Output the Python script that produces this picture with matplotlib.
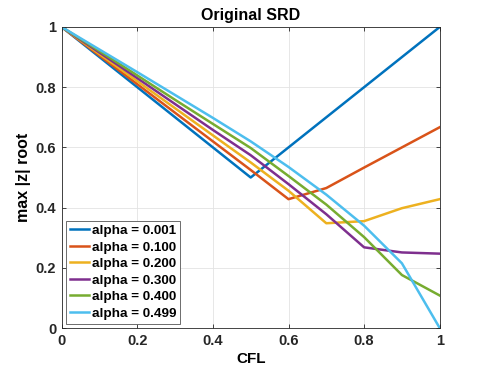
import matplotlib
matplotlib.use("Agg")
import matplotlib.pyplot as plt
from matplotlib.ticker import FuncFormatter

cfl = [0.0, 0.1, 0.2, 0.3, 0.4, 0.5, 0.6, 0.7, 0.8, 0.9, 1.0]
alpha_labels = ["alpha = 0.001", "alpha = 0.100", "alpha = 0.200",
                "alpha = 0.300", "alpha = 0.400", "alpha = 0.499"]
a001 = [1.0, 0.9, 0.8, 0.7, 0.6, 0.5, 0.6, 0.7, 0.8, 0.9, 1.0]
a100 = [1.0, 0.905, 0.81, 0.715, 0.62, 0.525, 0.428, 0.465, 0.533, 0.6, 0.667]
a200 = [1.0, 0.91, 0.82, 0.73, 0.64, 0.55, 0.456, 0.348, 0.355, 0.398, 0.428]
a300 = [1.0, 0.915, 0.83, 0.744, 0.658, 0.574, 0.478, 0.378, 0.268, 0.251, 0.247]
a400 = [1.0, 0.92, 0.839, 0.758, 0.678, 0.598, 0.505, 0.41, 0.302, 0.176, 0.108]
a499 = [1.0, 0.925, 0.85, 0.774, 0.698, 0.62, 0.535, 0.443, 0.34, 0.215, 0.0]
series = [a001, a100, a200, a300, a400, a499]
xticks = [0, 0.2, 0.4, 0.6, 0.8, 1]
yticks = [0, 0.2, 0.4, 0.6, 0.8, 1]

colors = [(0, 0.447, 0.741), (0.85, 0.325, 0.098), (0.929, 0.694, 0.125),
          (0.494, 0.184, 0.556), (0.466, 0.674, 0.188), (0.301, 0.745, 0.933)]

plt.rcParams['font.family'] = ['Liberation Sans', 'DejaVu Sans']
plt.rcParams['font.weight'] = 'bold'

fig = plt.figure(figsize=(4.79, 3.72), dpi=100)
ax = fig.add_axes([61.7 / 479, 1 - 328 / 372, (439.7 - 61.7) / 479, (328 - 27) / 372])

for ys, lab, c in zip(series, alpha_labels, colors):
    ax.plot(cfl, ys, color=c, lw=1.8, label=lab)

ax.set_xlim(0, 1)
ax.set_ylim(0, 1)
ax.set_xticks(xticks)
ax.set_yticks(yticks)
fmt = FuncFormatter(lambda v, p: ('%g' % v))
ax.xaxis.set_major_formatter(fmt)
ax.yaxis.set_major_formatter(fmt)
ax.grid(True, color='#e3e3e3', lw=0.6)
ax.set_axisbelow(True)
for s in ax.spines.values():
    s.set_color('#262626')
    s.set_linewidth(0.6)
ax.tick_params(direction='in', length=3, width=0.6, color='#262626',
               top=True, right=True, labelsize=10.5, pad=4, labelcolor='#262626')
for t in ax.get_xticklabels() + ax.get_yticklabels():
    t.set_fontweight('bold')

ax.set_title('Original SRD', fontsize=11.5, fontweight='bold', pad=5)
ax.set_xlabel('CFL', fontsize=11, fontweight='bold', labelpad=3)
ax.set_ylabel('max |z| root', fontsize=11.5, fontweight='bold', labelpad=3)

leg = ax.legend(loc='lower left', frameon=True, fancybox=False,
                framealpha=1, edgecolor='#555555', borderaxespad=0.33,
                handlelength=1.4, handletextpad=0.2, labelspacing=0.3,
                borderpad=0.3, prop={'weight': 'bold', 'size': 9.7})
leg.get_frame().set_linewidth(0.6)

fig.savefig('out.png', dpi=100, facecolor='white')
